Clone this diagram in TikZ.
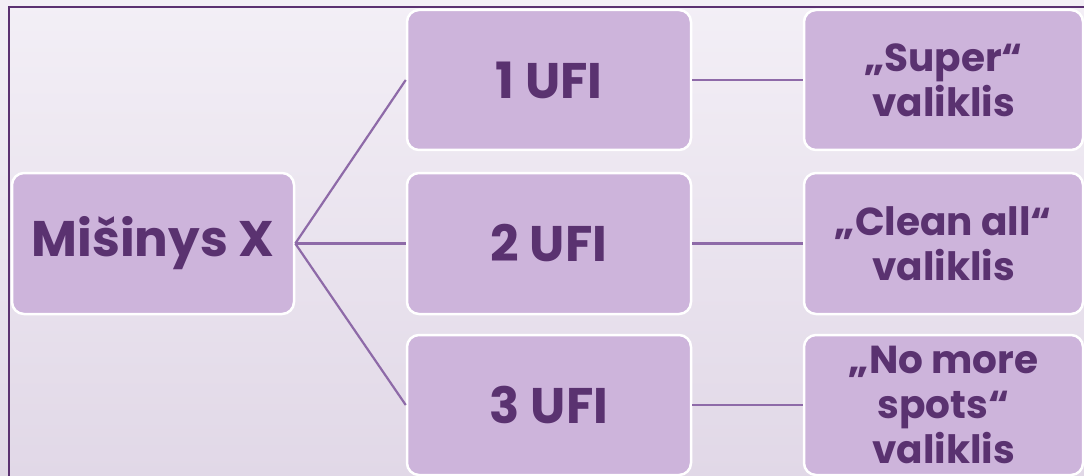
\documentclass[tikz,border=0pt]{standalone}
\usepackage{fontspec}
\setmainfont{Poppins}
\definecolor{bgtop}{HTML}{F3EFF6}
\definecolor{bgbot}{HTML}{E1D8E7}
\definecolor{framec}{HTML}{5B3171}
\definecolor{boxfill}{HTML}{CDB4DB}
\definecolor{txtc}{HTML}{5A3270}
\definecolor{linec}{HTML}{8E6AA8}
\tikzset{
  box/.style={draw=white, line width=2.5pt, fill=boxfill, rounded corners=12pt,
    align=center, text=txtc, font=\bfseries, inner sep=0pt},
  bigtext/.style={font=\fontsize{50}{56}\selectfont\bfseries},
  smalltext/.style={font=\fontsize{39}{45}\selectfont\bfseries},
  conn/.style={draw=linec, line width=2.2pt}
}
\begin{document}
\begin{tikzpicture}[x=1pt,y=-1pt]
\useasboundingbox (0,0) rectangle (1084,476);
\fill[top color=bgtop, bottom color=bgbot] (0,0) rectangle (1084,476);
\draw[framec, line width=2pt] (9,478) -- (9,7) -- (1086,7);
\node[box, bigtext, minimum width=282pt, minimum height=141pt] (m) at (153,243.5) {Mišinys X};
\node[box, bigtext, minimum width=284pt, minimum height=140pt] (u1) at (549,80) {1 UFI};
\node[box, bigtext, minimum width=284pt, minimum height=141pt] (u2) at (549,243.5) {2 UFI};
\node[box, bigtext, minimum width=284pt, minimum height=140pt] (u3) at (549,405) {3 UFI};
\node[box, smalltext, minimum width=279pt, minimum height=140pt] (v1) at (943.5,80) {„Super“\\valiklis};
\node[box, smalltext, minimum width=279pt, minimum height=141pt] (v2) at (943.5,243.5) {„Clean all“\\valiklis};
\node[box, smalltext, minimum width=279pt, minimum height=140pt] (v3) at (943.5,405) {„No more\\spots“\\valiklis};
\draw[conn] (m.east) -- (u1.west);
\draw[conn] (m.east) -- (u2.west);
\draw[conn] (m.east) -- (u3.west);
\draw[conn] (u1.east) -- (v1.west);
\draw[conn] (u2.east) -- (v2.west);
\draw[conn] (u3.east) -- (v3.west);
\end{tikzpicture}
\end{document}
